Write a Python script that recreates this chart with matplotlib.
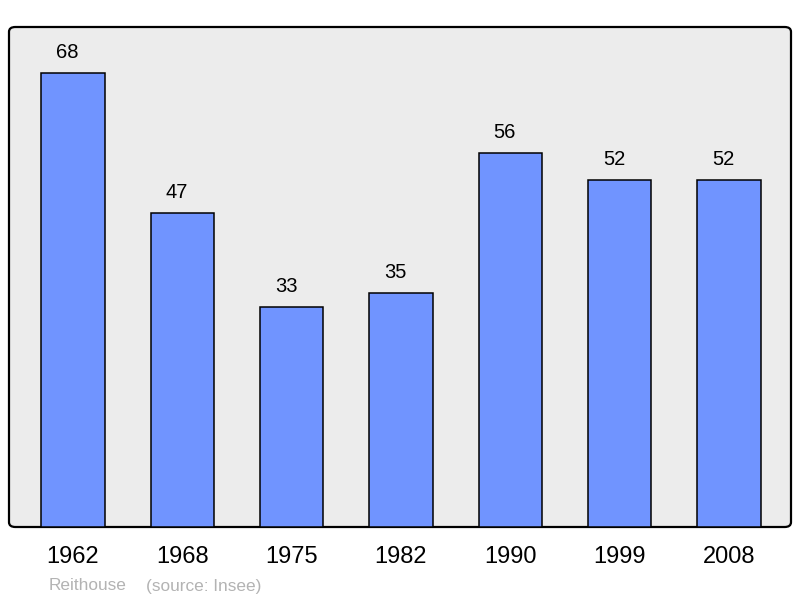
import matplotlib
matplotlib.use("Agg")
import matplotlib.pyplot as plt
from matplotlib.patches import FancyBboxPatch

plt.rcParams['font.family'] = ['Liberation Sans', 'DejaVu Sans']

# data
years = ["1962", "1968", "1975", "1982", "1990", "1999", "2008"]
population = [68, 47, 33, 35, 56, 52, 52]
town = "Reithouse"
source = "(source: Insee)"

fig = plt.figure(figsize=(8, 5.98), dpi=100)

# rounded grey panel behind the bars
L, B, W, H = 9 / 800, (598 - 527) / 598, 782 / 800, 500 / 598
panel = FancyBboxPatch((L, B), W, H, boxstyle="round,pad=0,rounding_size=0.008",
                       transform=fig.transFigure, facecolor="#ececec",
                       edgecolor="black", linewidth=1.6, zorder=-10)
fig.patches.append(panel)

ax = fig.add_axes([L, B, W, H])
ax.set_facecolor("none")
x = range(len(years))
ax.bar(x, population, width=0.58, color="#7094ff", edgecolor="black",
       linewidth=1.1, zorder=2)
for xi, v in zip(x, population):
    ax.annotate(str(v), (xi, v), xytext=(-4, 8), textcoords="offset points",
                ha="center", va="bottom", fontsize=14.5)

ax.set_xlim(-0.585, 6.567)
ax.set_ylim(0, 74.9)
ax.set_xticks(list(x))
ax.set_xticklabels(years, fontsize=17)
ax.tick_params(axis="x", length=0, pad=14)
ax.set_yticks([])
for s in ax.spines.values():
    s.set_visible(False)

fig.text(49 / 800, 1 - 586 / 598, town, fontsize=12.4, color="#b3b3b3", va="center")
fig.text(146 / 800, 1 - 586 / 598, source, fontsize=12.4, color="#b3b3b3", va="center")

fig.savefig("out.png", dpi=100)
